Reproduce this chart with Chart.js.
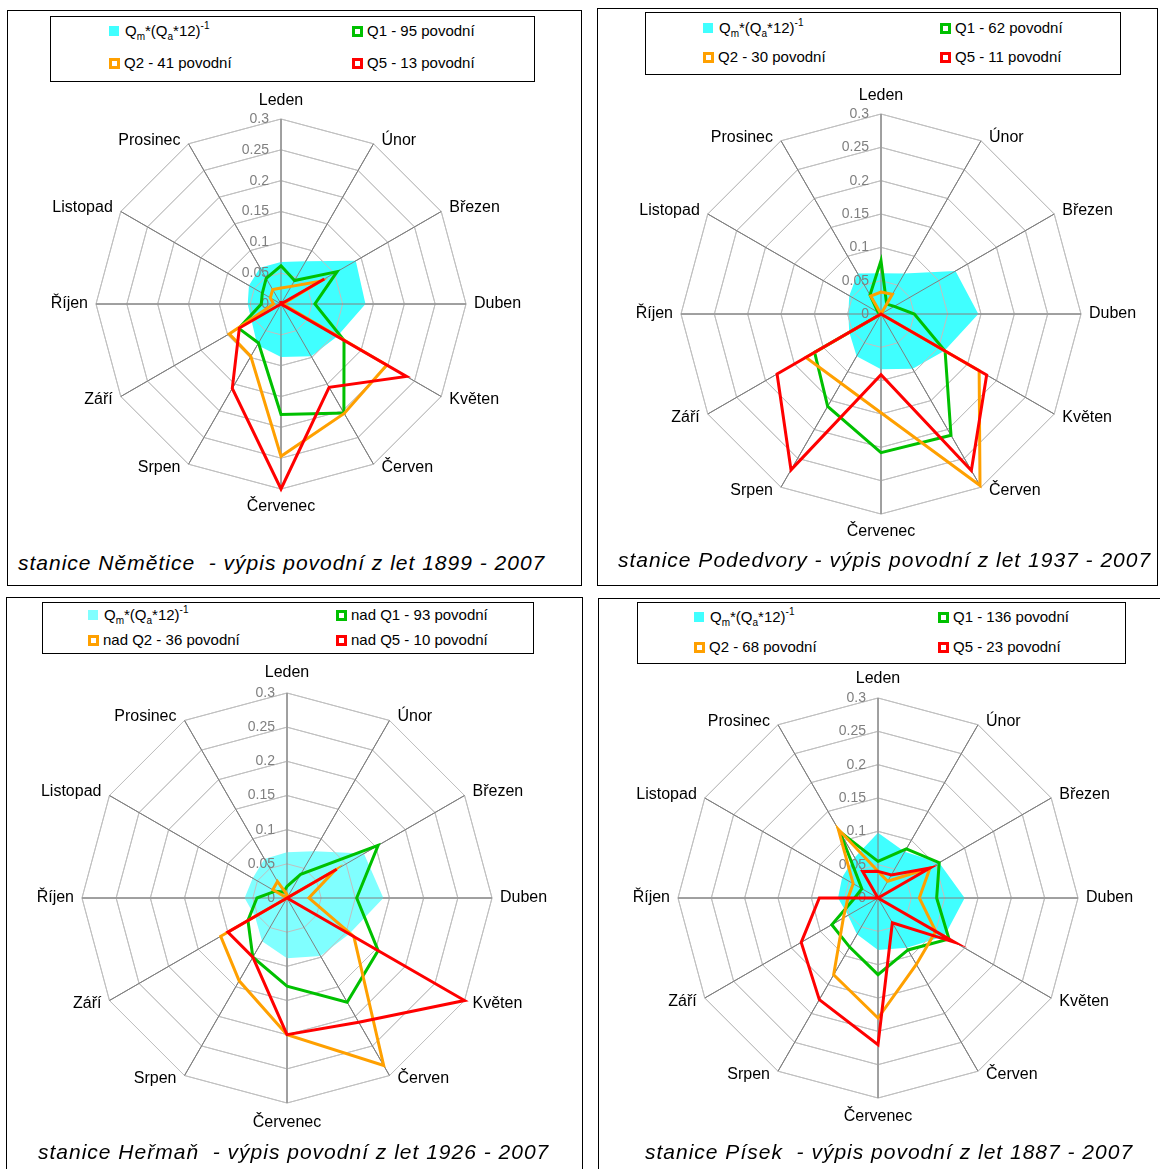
<!DOCTYPE html>
<html>
<head>
<meta charset="utf-8">
<script src="https://cdn.jsdelivr.net/npm/chart.js@4"></script>
<style>
  body { margin: 0; width: 1160px; height: 1169px; background: #fff; position: relative; overflow: hidden;
         font-family: Arial, "Liberation Sans", sans-serif; color: #000; }
  .panel { position: absolute; border: 1px solid #000; box-sizing: border-box; }
  .legend { position: absolute; border: 1px solid #000; box-sizing: border-box; background: #fff; }
  .item { position: absolute; white-space: pre; font-size: 15px; line-height: 18px; }
  .sw { display: inline-block; width: 11px; height: 11px; box-sizing: border-box; border: 3px solid; background: #fff;
        vertical-align: -1px; margin-right: 4px; }
  .fillsw { display: inline-block; width: 10px; height: 10px; vertical-align: 0px; margin-right: 6px; }
  .sub { font-size: 10px; position: relative; top: 4px; }
  .sup { font-size: 10px; position: relative; top: -7px; }
  .title { position: absolute; font-style: italic; font-size: 21px; letter-spacing: 1px; line-height: 24px; white-space: pre; }
  canvas { position: absolute; }
</style>
</head>
<body>

<div class="panel" style="left:7px; top:10px; width:575px; height:576px;"></div>
<div class="panel" style="left:597px; top:8px; width:561px; height:578px;"></div>
<div class="panel" style="left:6px; top:597px; width:577px; height:574px;"></div>
<div class="panel" style="left:598px; top:598px; width:564px; height:573px;"></div>

<canvas id="c1" width="494" height="494" style="left:34px; top:57px;"></canvas>
<canvas id="c2" width="524" height="524" style="left:619px; top:52px;"></canvas>
<canvas id="c3" width="534" height="534" style="left:20px; top:631px;"></canvas>
<canvas id="c4" width="524" height="524" style="left:616px; top:636px;"></canvas>

<!-- legends -->
<div class="legend" style="left:50px; top:16px; width:485px; height:66px;"></div>
<div class="item" style="left:109px; top:22px;"><span class="fillsw" style="background:#40ffff"></span>Q<span class="sub">m</span>*(Q<span class="sub">a</span>*12)<span class="sup">-1</span></div>
<div class="item" style="left:352px; top:22px;"><span class="sw" style="border-color:#00c000"></span>Q1 - 95 povodní</div>
<div class="item" style="left:109px; top:54px;"><span class="sw" style="border-color:#ffa000"></span>Q2 - 41 povodní</div>
<div class="item" style="left:352px; top:54px;"><span class="sw" style="border-color:#ff0000"></span>Q5 - 13 povodní</div>

<div class="legend" style="left:645px; top:12px; width:476px; height:63px;"></div>
<div class="item" style="left:703px; top:19px;"><span class="fillsw" style="background:#40ffff"></span>Q<span class="sub">m</span>*(Q<span class="sub">a</span>*12)<span class="sup">-1</span></div>
<div class="item" style="left:940px; top:19px;"><span class="sw" style="border-color:#00c000"></span>Q1 - 62 povodní</div>
<div class="item" style="left:703px; top:48px;"><span class="sw" style="border-color:#ffa000"></span>Q2 - 30 povodní</div>
<div class="item" style="left:940px; top:48px;"><span class="sw" style="border-color:#ff0000"></span>Q5 - 11 povodní</div>

<div class="legend" style="left:42px; top:602px; width:492px; height:52px;"></div>
<div class="item" style="left:88px; top:606px;"><span class="fillsw" style="background:#80ffff"></span>Q<span class="sub">m</span>*(Q<span class="sub">a</span>*12)<span class="sup">-1</span></div>
<div class="item" style="left:336px; top:606px;"><span class="sw" style="border-color:#00c000"></span>nad Q1 - 93 povodní</div>
<div class="item" style="left:88px; top:631px;"><span class="sw" style="border-color:#ffa000"></span>nad Q2 - 36 povodní</div>
<div class="item" style="left:336px; top:631px;"><span class="sw" style="border-color:#ff0000"></span>nad Q5 - 10 povodní</div>

<div class="legend" style="left:637px; top:602px; width:489px; height:62px;"></div>
<div class="item" style="left:694px; top:608px;"><span class="fillsw" style="background:#40ffff"></span>Q<span class="sub">m</span>*(Q<span class="sub">a</span>*12)<span class="sup">-1</span></div>
<div class="item" style="left:938px; top:608px;"><span class="sw" style="border-color:#00c000"></span>Q1 - 136 povodní</div>
<div class="item" style="left:694px; top:638px;"><span class="sw" style="border-color:#ffa000"></span>Q2 - 68 povodní</div>
<div class="item" style="left:938px; top:638px;"><span class="sw" style="border-color:#ff0000"></span>Q5 - 23 povodní</div>

<!-- station titles -->
<div class="title" style="left:18px; top:551px;">stanice Němětice  - výpis povodní z let 1899 - 2007</div>
<div class="title" style="left:618px; top:548px;">stanice Podedvory - výpis povodní z let 1937 - 2007</div>
<div class="title" style="left:38px; top:1140px;">stanice Heřmaň  - výpis povodní z let 1926 - 2007</div>
<div class="title" style="left:645px; top:1140px;">stanice Písek  - výpis povodní z let 1887 - 2007</div>

<script>
// Month categories (spokes, clockwise from top)
const months = ['Leden', 'Únor', 'Březen', 'Duben', 'Květen', 'Červen', 'Červenec', 'Srpen', 'Září', 'Říjen', 'Listopad', 'Prosinec'];
const tickValues = [0, 0.05, 0.1, 0.15, 0.2, 0.25, 0.3];
const tickLabels = ['0', '0.05', '0.1', '0.15', '0.2', '0.25', '0.3'];

// Němětice
const nemCyan = [0.068, 0.080, 0.140, 0.137, 0.105, 0.098, 0.086, 0.077, 0.055, 0.054, 0.060, 0.068];
const nemQ1   = [0.062, 0.044, 0.105, 0.055, 0.118, 0.204, 0.179, 0.073, 0.079, 0.032, 0.035, 0.048];
const nemQ2   = [0.026, 0.033, 0.074, 0.003, 0.198, 0.205, 0.247, 0.098, 0.097, 0.012, 0.020, 0.027];
const nemQ5   = [0.005, 0.000, 0.081, 0.000, 0.235, 0.156, 0.300, 0.158, 0.078, 0.000, 0.000, 0.000];

// Podedvory
const podCyan = [0.061, 0.070, 0.129, 0.146, 0.110, 0.095, 0.083, 0.073, 0.055, 0.049, 0.055, 0.070];
const podQ1   = [0.080, 0.017, 0.023, 0.050, 0.111, 0.210, 0.208, 0.160, 0.115, 0.000, 0.005, 0.033];
const podQ2   = [0.033, 0.034, 0.000, 0.000, 0.170, 0.297, 0.148, 0.120, 0.130, 0.000, 0.000, 0.031];
const podQ5   = [0.000, 0.000, 0.000, 0.000, 0.183, 0.271, 0.091, 0.270, 0.180, 0.000, 0.000, 0.000];

// Heřmaň
const herCyan = [0.067, 0.079, 0.130, 0.141, 0.105, 0.098, 0.088, 0.073, 0.054, 0.062, 0.058, 0.066];
const herQ1   = [0.017, 0.040, 0.154, 0.102, 0.154, 0.176, 0.129, 0.100, 0.066, 0.044, 0.020, 0.010];
const herQ2   = [0.005, 0.000, 0.081, 0.032, 0.113, 0.283, 0.200, 0.140, 0.112, 0.000, 0.024, 0.028];
const herQ5   = [0.000, 0.000, 0.084, 0.000, 0.300, 0.210, 0.200, 0.100, 0.100, 0.000, 0.000, 0.000];

// Písek
const pisCyan = [0.098, 0.080, 0.106, 0.130, 0.115, 0.086, 0.078, 0.063, 0.052, 0.060, 0.062, 0.070];
const pisQ1   = [0.055, 0.085, 0.106, 0.088, 0.123, 0.090, 0.115, 0.085, 0.080, 0.035, 0.028, 0.115];
const pisQ2   = [0.040, 0.029, 0.090, 0.062, 0.100, 0.115, 0.180, 0.133, 0.060, 0.045, 0.043, 0.119];
const pisQ5   = [0.040, 0.040, 0.090, 0.000, 0.133, 0.043, 0.220, 0.176, 0.133, 0.088, 0.000, 0.046];

// redraw the web over the filled area, value labels on the top spoke, month names like Excel does
const webOverFill = {
  id: 'webOverFill',
  afterDatasetDraw(chart, args, opts) {
    if (args.index !== 3) return;
    const s = chart.scales.r;
    const ctx = chart.ctx;
    s.drawGrid();
    ctx.save();
    ctx.font = '14px Arial, "Liberation Sans", sans-serif';
    ctx.fillStyle = '#808080';
    ctx.textAlign = 'right';
    ctx.textBaseline = 'middle';
    tickValues.forEach((v, i) => {
      ctx.fillText(tickLabels[i], s.xCenter - 12, s.yCenter - s.getDistanceFromCenterForValue(v));
    });

    ctx.font = '16px Arial, "Liberation Sans", sans-serif';
    ctx.fillStyle = '#000';
    months.forEach((m, i) => {
      const p = s.getPointPosition(i, s.drawingArea);
      const dx = p.x - s.xCenter, dy = p.y - s.yCenter;
      let x = p.x, y = p.y;
      if (Math.abs(dx) < 1) {
        ctx.textAlign = 'center';
        y += dy < 0 ? -opts.vGap : opts.vGap;
      } else {
        ctx.textAlign = dx > 0 ? 'left' : 'right';
        x += dx > 0 ? 8 : -8;
        if (Math.abs(dy) > 1) y += dy < 0 ? -3.5 : 3.5;
      }
      ctx.fillText(m, x, y);
    });
    ctx.restore();
  }
};

function makeRadar(id, cyanColor, cyan, q1, q2, q5, vGap) {
  const line = (label, data, color) => ({
    label: label, data: data, borderColor: color, borderWidth: 3,
    pointRadius: 0, fill: false, tension: 0
  });
  return new Chart(document.getElementById(id).getContext('2d'), {
    type: 'radar',
    data: {
      labels: months,
      // first dataset is drawn last (on top)
      datasets: [
        line('Q5', q5, '#ff0000'),
        line('Q2', q2, '#ffa000'),
        line('Q1', q1, '#00c000'),
        { label: 'Qm/(Qa*12)', data: cyan, backgroundColor: cyanColor, borderWidth: 0,
          pointRadius: 0, fill: true, tension: 0 }
      ]
    },
    options: {
      responsive: false,
      animation: false,
      layout: { padding: 62 },
      plugins: {
        legend: { display: false },
        tooltip: { enabled: false },
        webOverFill: { vGap: vGap }
      },
      scales: {
        r: {
          min: 0,
          max: 0.3,
          ticks: { stepSize: 0.05, display: false },
          grid: { color: '#c0c0c0', lineWidth: 1 },
          angleLines: { color: '#808080', lineWidth: 1 },
          pointLabels: { display: false }
        }
      }
    },
    plugins: [webOverFill]
  });
}

makeRadar('c1', '#40ffff', nemCyan, nemQ1, nemQ2, nemQ5, 18);
makeRadar('c2', '#40ffff', podCyan, podQ1, podQ2, podQ5, 18);
makeRadar('c3', '#80ffff', herCyan, herQ1, herQ2, herQ5, 20);
makeRadar('c4', '#40ffff', pisCyan, pisQ1, pisQ2, pisQ5, 19);
</script>
</body>
</html>
